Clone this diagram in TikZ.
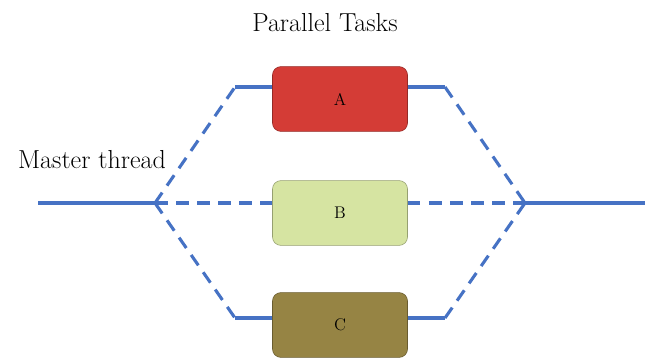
\documentclass[tikz,border=0pt]{standalone}
\usepackage{tikz}
\usetikzlibrary{positioning,calc}
\definecolor{tblue}{RGB}{70,114,196}
\definecolor{tred}{RGB}{212,60,54}
\definecolor{tgreen}{RGB}{214,228,162}
\definecolor{tolive}{RGB}{150,132,68}
\tikzset{
  task/.style={draw=#1!70!black, fill=#1, thin, rounded corners=6pt, minimum width=3.375cm, minimum height=1.62cm, font=\fontsize{12}{14}\selectfont},
  solidln/.style={tblue, line width=2.2pt},
  dashln/.style={tblue, line width=2.2pt, dash pattern=on 9pt off 6pt},
  lbl/.style={font=\fontsize{18.5}{22}\selectfont},
}
\begin{document}
\begin{tikzpicture}[x=0.025cm, y=-0.025cm]
  \useasboundingbox (0,0) rectangle (650,360);
  \node[lbl] (title) at (325,23) {Parallel Tasks};
  \node[lbl] (master) at (92,160) {Master thread};
  \node[task=tred] (A) at (340,99) {A};
  \node[task=tgreen] (B) at (340,213) {B};
  \node[task=tolive] (C) at (340,325) {C};
  \coordinate (start) at (38,203);
  \coordinate (split) at (155,203);
  \coordinate (join) at (525,203);
  \coordinate (finish) at (645,203);
  \coordinate (tl) at (235,87);
  \coordinate (tr) at (445,87);
  \coordinate (bl) at (235,318);
  \coordinate (br) at (445,318);
  % master thread in and out
  \draw[solidln] (start) -- (split);
  \draw[solidln] (join) -- (finish);
  % fork
  \draw[dashln] (split) -- (tl);
  \draw[dashln] (split) -- (B.west |- split);
  \draw[dashln] (split) -- (bl);
  \draw[solidln] (tl) -- (A.west |- tl);
  \draw[solidln] (bl) -- (C.west |- bl);
  % join
  \draw[solidln] (A.east |- tr) -- (tr);
  \draw[solidln] (C.east |- br) -- (br);
  \draw[dashln] (tr) -- (join);
  \draw[dashln] (B.east |- join) -- (join);
  \draw[dashln] (br) -- (join);
\end{tikzpicture}
\end{document}
